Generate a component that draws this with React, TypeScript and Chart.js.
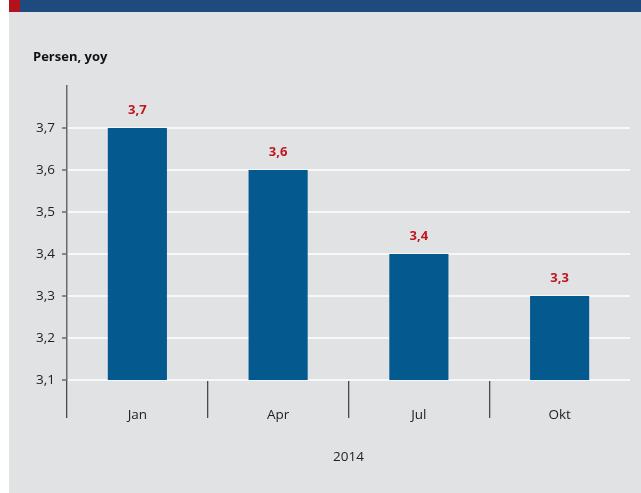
import React, { useEffect, useRef } from "react";
import { Chart, registerables } from "chart.js";

Chart.register(...registerables);

const categories = ["Jan", "Apr", "Jul", "Okt"];
const values = [3.7, 3.6, 3.4, 3.3];
const yMin = 3.1;
const yMax = 3.8;
const yStep = 0.1;
const xAxisTitle = "2014";
const unitLabel = "Persen, yoy";

const FONT = "'Open Sans', 'Noto Sans', sans-serif";
const BAR_COLOR = "#04598f";
const LABEL_RED = "#c0141f";
const BG = "#e1e2e4";

const fmt = (v: number) => v.toFixed(1).replace(".", ",");

const valueLabels = {
  id: "valueLabels",
  afterDatasetsDraw(chart: any) {
    const ctx = chart.ctx;
    const meta = chart.getDatasetMeta(0);
    ctx.save();
    ctx.font = `bold 13px ${FONT}`;
    ctx.fillStyle = LABEL_RED;
    ctx.textAlign = "center";
    ctx.textBaseline = "middle";
    meta.data.forEach((el: any, i: number) => {
      const v = chart.data.datasets[0].data[i] as number;
      ctx.fillText(fmt(v), el.x, el.y - 18);
    });
    ctx.restore();
  },
};

export default function App() {
  const canvasRef = useRef<HTMLCanvasElement | null>(null);

  useEffect(() => {
    if (!canvasRef.current) return;
    const transparent = "rgba(0,0,0,0)";
    const chart = new Chart(canvasRef.current, {
      type: "bar",
      data: {
        labels: categories,
        datasets: [
          {
            data: values,
            backgroundColor: BAR_COLOR,
            borderWidth: 0,
            categoryPercentage: 1,
            barPercentage: 0.42,
          },
        ],
      },
      options: {
        animation: false,
        responsive: false,
        maintainAspectRatio: false,
        layout: { padding: { top: 74, right: 11, left: 0, bottom: 0 } },
        plugins: {
          legend: { display: false },
          tooltip: { enabled: false },
        },
        scales: {
          x: {
            offset: true,
            grid: {
              offset: true,
              drawOnChartArea: false,
              drawTicks: true,
              tickLength: 38,
              lineWidth: 1.3,
              tickWidth: 1.3,
              color: (c: any) => (c.type === "tick" ? "#4a4a4a" : transparent),
              tickColor: (c: any) => (c.type === "tick" ? "#4a4a4a" : transparent),
            },
            border: { display: false },
            ticks: {
              padding: -11,
              color: "#222",
              font: { family: FONT, size: 13.5 },
            },
            title: {
              display: true,
              text: xAxisTitle,
              color: "#222",
              font: { family: FONT, size: 13.5 },
              padding: { top: 0, bottom: 28 },
            },
            afterFit: (s: any) => {
              s.height = 113;
            },
          },
          y: {
            min: yMin,
            max: yMax,
            ticks: {
              stepSize: yStep,
              padding: 7,
              color: "#222",
              font: { family: FONT, size: 13.5 },
              callback: (v: any) => (Number(v) > yMax - yStep / 2 ? "" : fmt(Number(v))),
            },
            grid: {
              lineWidth: 2,
              tickLength: 5,
              tickWidth: 1.3,
              color: (c: any) => (c.tick && c.tick.value > yMax - yStep / 2 ? transparent : "#f7f8f9"),
              tickColor: (c: any) => (c.tick && c.tick.value > yMax - yStep / 2 ? transparent : "#555"),
            },
            border: { display: true, color: "#6a6a6a", width: 1.5 },
            afterFit: (s: any) => {
              s.width = 58;
            },
          },
        },
      },
      plugins: [valueLabels],
    });
    return () => chart.destroy();
  }, []);

  return (
    <div
      style={{
        position: "absolute",
        left: 0,
        top: 0,
        width: 641,
        height: 493,
        background: "#ffffff",
        overflow: "hidden",
      }}
    >
      <div style={{ position: "absolute", left: 9, top: 0, width: 11, height: 12, background: "#b3121c" }} />
      <div style={{ position: "absolute", left: 20, top: 0, width: 621, height: 12, background: "#1f4a7d" }} />
      <div style={{ position: "absolute", left: 9, top: 12, width: 632, height: 481, background: BG }}>
        <canvas ref={canvasRef} width={632} height={481} style={{ display: "block", width: 632, height: 481 }} />
      </div>
      <div
        style={{
          position: "absolute",
          left: 33,
          top: 47,
          lineHeight: "18px",
          fontFamily: FONT,
          fontWeight: 700,
          fontSize: 13,
          color: "#111",
          whiteSpace: "nowrap",
        }}
      >
        {unitLabel}
      </div>
    </div>
  );
}
